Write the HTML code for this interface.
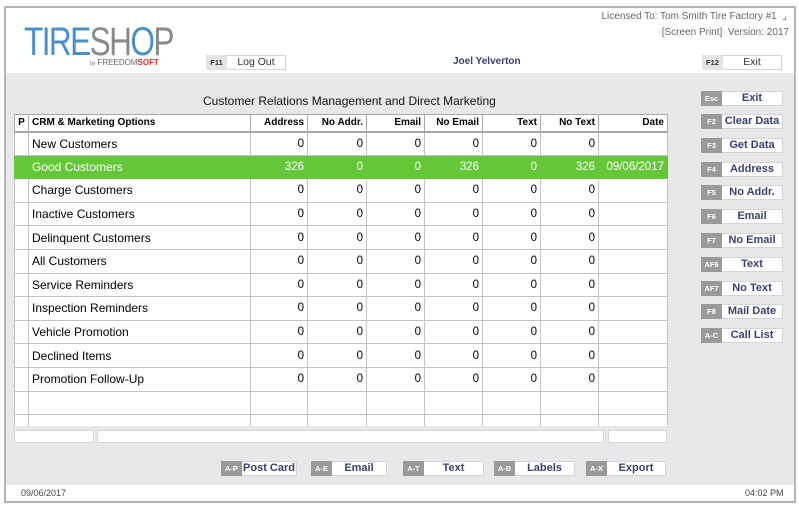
<!DOCTYPE html>
<html><head><meta charset="utf-8"><style>
*{box-sizing:border-box;margin:0;padding:0}
body{width:799px;height:506px;background:#fff;font-family:"Liberation Sans",sans-serif;position:relative;overflow:hidden}
.a{position:absolute}
.frame{left:4px;top:6px;width:792px;height:497px;border:2px solid #b4b4b4;background:#fff}
.body{left:6px;top:73px;width:788px;height:412px;background:#e8e8ea}
.btn{position:absolute;height:15px;background:#fff;border:1px solid #d4d4d8;font-size:11px;color:#3a4170;font-weight:bold;text-align:center;line-height:13px}
.btn .k{position:absolute;left:-1px;top:-1px;width:21px;height:15px;background:#9a9a9a;color:#fff;font-size:7.5px;line-height:15px;text-align:center;font-weight:bold}
.btn .t{position:absolute;left:20px;right:0;top:0}
table{position:absolute;left:14px;top:114px;border-collapse:collapse;background:#fff}
td,th{border:1px solid #c4c4c4;font-size:11.5px;padding:0 3px;text-align:right;height:23.6px}
th{height:17px;font-size:10px;font-weight:bold;border-color:#a8a8a8;border-bottom:2px solid #a8a8a8}
td.n{text-align:left;font-size:12px}
tr.g td{background:#66c63a;color:#fff;border-color:#66c63a}
tr.last td{height:11px;font-size:0;line-height:0;border-bottom:none}
.box{position:absolute;background:#fff;border:1px solid #d8d8dc;height:13px;top:430px}
</style></head><body>
<div class="a frame"></div>
<div class="a body"></div>
<div class="a" style="left:24px;top:22px;font-size:40px;letter-spacing:-2px;transform:scaleX(.79);transform-origin:left;white-space:nowrap;line-height:40px"><span style="color:#4a8fcc">TIRE</span><span style="color:#8a8a8a">SH</span><span style="color:#4a8fcc">O</span><span style="color:#8a8a8a">P</span></div>
<div class="a" style="left:90px;top:58px;font-size:8px;color:#666;white-space:nowrap"><span style="font-size:5px">by</span> FREEDOM<b style="color:#d8342a">SOFT</b></div>
<div class="a" style="right:12px;top:11px;font-size:10px;color:#666">Licensed To: Tom Smith Tire Factory #1 &nbsp;⌟</div>
<div class="a" style="right:10px;top:27px;font-size:10px;color:#666">[Screen Print] &nbsp;Version: 2017</div>
<div class="btn" style="left:206px;top:55px;width:80px;color:#333;font-weight:normal;font-size:10.5px"><span class="k" style="background:#e4e4e6;color:#333;border:none">F11</span><span class="t">Log Out</span></div>
<div class="btn" style="left:702px;top:55px;width:80px;color:#333;font-weight:normal;font-size:10.5px"><span class="k" style="background:#e4e4e6;color:#333">F12</span><span class="t">Exit</span></div>
<div class="a" style="left:453px;top:56px;font-size:10px;font-weight:bold;color:#3a4170">Joel Yelverton</div>
<div class="a" style="left:203px;top:94px;font-size:12px;color:#111">Customer Relations Management and Direct Marketing</div>
<table>
<tr><th style="width:14px;text-align:center;padding:0">P</th><th style="width:222px;text-align:left">CRM &amp; Marketing Options</th><th style="width:57px">Address</th><th style="width:59px">No Addr.</th><th style="width:58px">Email</th><th style="width:58px">No Email</th><th style="width:58px">Text</th><th style="width:58px">No Text</th><th style="width:69px">Date</th></tr>
<tr><td></td><td class="n">New Customers</td><td>0</td><td>0</td><td>0</td><td>0</td><td>0</td><td>0</td><td></td></tr>
<tr class="g"><td></td><td class="n">Good Customers</td><td>326</td><td>0</td><td>0</td><td>326</td><td>0</td><td>326</td><td>09/06/2017</td></tr>
<tr><td></td><td class="n">Charge Customers</td><td>0</td><td>0</td><td>0</td><td>0</td><td>0</td><td>0</td><td></td></tr>
<tr><td></td><td class="n">Inactive Customers</td><td>0</td><td>0</td><td>0</td><td>0</td><td>0</td><td>0</td><td></td></tr>
<tr><td></td><td class="n">Delinquent Customers</td><td>0</td><td>0</td><td>0</td><td>0</td><td>0</td><td>0</td><td></td></tr>
<tr><td></td><td class="n">All Customers</td><td>0</td><td>0</td><td>0</td><td>0</td><td>0</td><td>0</td><td></td></tr>
<tr><td></td><td class="n">Service Reminders</td><td>0</td><td>0</td><td>0</td><td>0</td><td>0</td><td>0</td><td></td></tr>
<tr><td></td><td class="n">Inspection Reminders</td><td>0</td><td>0</td><td>0</td><td>0</td><td>0</td><td>0</td><td></td></tr>
<tr><td></td><td class="n">Vehicle Promotion</td><td>0</td><td>0</td><td>0</td><td>0</td><td>0</td><td>0</td><td></td></tr>
<tr><td></td><td class="n">Declined Items</td><td>0</td><td>0</td><td>0</td><td>0</td><td>0</td><td>0</td><td></td></tr>
<tr><td></td><td class="n">Promotion Follow-Up</td><td>0</td><td>0</td><td>0</td><td>0</td><td>0</td><td>0</td><td></td></tr>
<tr><td></td><td></td><td></td><td></td><td></td><td></td><td></td><td></td><td></td></tr>
<tr class="last"><td></td><td></td><td></td><td></td><td></td><td></td><td></td><td></td><td></td></tr>
</table>
<div class="box" style="left:14px;width:80px"></div>
<div class="box" style="left:97px;width:507px"></div>
<div class="box" style="left:608px;width:59px"></div>
<div class="btn" style="left:701px;top:91px;width:82px"><span class="k">Esc</span><span class="t">Exit</span></div>
<div class="btn" style="left:701px;top:114px;width:82px"><span class="k">F2</span><span class="t">Clear Data</span></div>
<div class="btn" style="left:701px;top:138px;width:82px"><span class="k">F3</span><span class="t">Get Data</span></div>
<div class="btn" style="left:701px;top:162px;width:82px"><span class="k">F4</span><span class="t">Address</span></div>
<div class="btn" style="left:701px;top:185px;width:82px"><span class="k">F5</span><span class="t">No Addr.</span></div>
<div class="btn" style="left:701px;top:209px;width:82px"><span class="k">F6</span><span class="t">Email</span></div>
<div class="btn" style="left:701px;top:233px;width:82px"><span class="k">F7</span><span class="t">No Email</span></div>
<div class="btn" style="left:701px;top:257px;width:82px"><span class="k">AF6</span><span class="t">Text</span></div>
<div class="btn" style="left:701px;top:281px;width:82px"><span class="k">AF7</span><span class="t">No Text</span></div>
<div class="btn" style="left:701px;top:304px;width:82px"><span class="k">F8</span><span class="t">Mail Date</span></div>
<div class="btn" style="left:701px;top:328px;width:82px"><span class="k">A-C</span><span class="t">Call List</span></div>
<div class="btn" style="left:221px;top:461px;width:76px"><span class="k">A-P</span><span class="t">Post Card</span></div>
<div class="btn" style="left:311px;top:461px;width:76px"><span class="k">A-E</span><span class="t">Email</span></div>
<div class="btn" style="left:403px;top:461px;width:81px"><span class="k">A-T</span><span class="t">Text</span></div>
<div class="btn" style="left:494px;top:461px;width:81px"><span class="k">A-B</span><span class="t">Labels</span></div>
<div class="btn" style="left:586px;top:461px;width:80px"><span class="k">A-X</span><span class="t">Export</span></div>
<div class="a" style="left:21px;top:488px;font-size:9px;color:#444">09/06/2017</div>
<div class="a" style="left:745px;top:488px;font-size:9px;color:#444">04:02 PM</div>
</body></html>
